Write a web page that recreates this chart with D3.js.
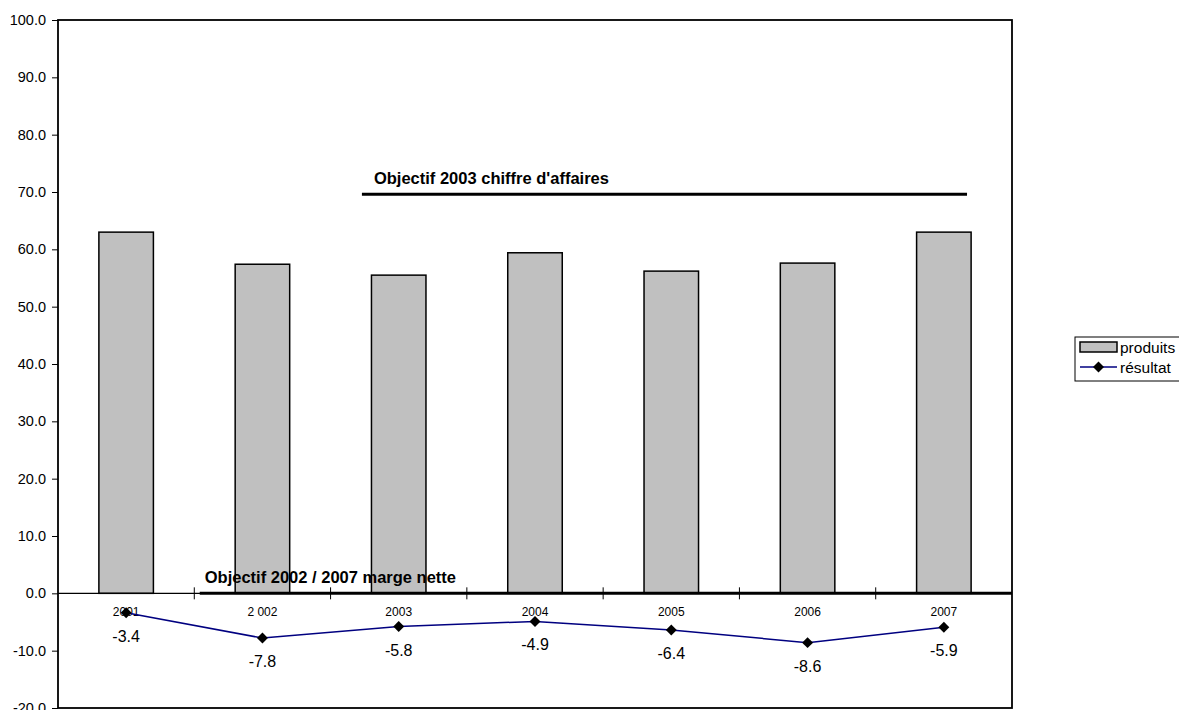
<!DOCTYPE html>
<html><head><meta charset="utf-8">
<script src="https://cdn.jsdelivr.net/npm/d3@7"></script>
<style>body{margin:0;background:#fff}svg{display:block}svg text{font-family:Arial,"Liberation Sans",sans-serif}</style>
</head><body>
<svg id="c" width="1179" height="710"></svg>
<script>
const categories = ["2001","2 002","2003","2004","2005","2006","2007"];
const produits = [63.0, 57.4, 55.5, 59.4, 56.2, 57.6, 63.0];
const resultat = [-3.4, -7.8, -5.8, -4.9, -6.4, -8.6, -5.9];
const yTicks = [-20,-10,0,10,20,30,40,50,60,70,80,90,100];
const objectifCA = {label:"Objectif 2003 chiffre d'affaires", value:69.6, from:2.23, to:6.67};
const objectifMarge = {label:"Objectif 2002 / 2007 marge nette", value:0, from:1.04, to:7};
const legendItems = ["produits","résultat"];

const fmt = d3.formatLocale({decimal:".", thousands:",", grouping:[3], currency:["",""], minus:"-"}).format(".1f");
const svg = d3.select("#c");
const L=58, R=1012, T=20, B=708;
const y = d3.scaleLinear().domain([-20,100]).range([B,T]);
const x = d3.scaleBand().domain(categories).range([L,R]).paddingInner(0.6).paddingOuter(0.3);
const xi = d3.scaleLinear().domain([0,7]).range([L,R]);

// y axis
const yAxis = d3.axisLeft(y).tickValues(yTicks).tickFormat(fmt).tickSize(6).tickPadding(6);
const gy = svg.append("g").attr("transform",`translate(${L},0)`).call(yAxis);
gy.attr("font-family",null);
gy.select(".domain").remove();
gy.selectAll("line").attr("stroke","#000");
gy.selectAll("text").attr("font-size",14.5).attr("fill","#000");

// bars
svg.append("g").selectAll("rect").data(produits).join("rect")
  .attr("x",(d,i)=>x(categories[i])).attr("width",x.bandwidth())
  .attr("y",d=>y(d)).attr("height",d=>y(0)-y(d))
  .attr("fill","#C0C0C0").attr("stroke","#000").attr("stroke-width",1.5);

// x axis at zero
svg.append("line").attr("x1",L).attr("x2",R).attr("y1",y(0)).attr("y2",y(0)).attr("stroke","#000").attr("stroke-width",1.2);
svg.append("g").selectAll("line").data(d3.range(1,7)).join("line")
  .attr("x1",d=>xi(d)).attr("x2",d=>xi(d)).attr("y1",y(0)-6).attr("y2",y(0)+6)
  .attr("stroke","#000").attr("stroke-width",1);

// objective lines
[objectifCA, objectifMarge].forEach(o=>{
  svg.append("line").attr("x1",xi(o.from)).attr("x2",xi(o.to)).attr("y1",y(o.value)).attr("y2",y(o.value))
    .attr("stroke","#000").attr("stroke-width",3);
});
svg.append("text").attr("x",xi(objectifCA.from)+12).attr("y",y(objectifCA.value)-10)
  .attr("font-size",16.5).attr("font-weight","bold").text(objectifCA.label);
svg.append("text").attr("x",xi(objectifMarge.from)+5).attr("y",y(objectifMarge.value)-10)
  .attr("font-size",16.5).attr("font-weight","bold").text(objectifMarge.label);

// category labels
svg.append("g").selectAll("text").data(categories).join("text")
  .attr("x",d=>x(d)+x.bandwidth()/2).attr("y",y(0)+23)
  .attr("text-anchor","middle").attr("font-size",12).text(d=>d);

// line
const cx = i=>x(categories[i])+x.bandwidth()/2;
svg.append("path").datum(resultat)
  .attr("d",d3.line().x((d,i)=>cx(i)).y(d=>y(d)))
  .attr("fill","none").attr("stroke","#000080").attr("stroke-width",1.5);
const sym = d3.symbol().type(d3.symbolSquare).size(60);
svg.append("g").selectAll("path").data(resultat).join("path")
  .attr("d",sym).attr("transform",(d,i)=>`translate(${cx(i)},${y(d)}) rotate(45)`).attr("fill","#000");
svg.append("g").selectAll("text").data(resultat).join("text")
  .attr("x",(d,i)=>cx(i)).attr("y",d=>y(d)+29)
  .attr("text-anchor","middle").attr("font-size",16).text(d=>fmt(d));

// plot border
svg.append("rect").attr("x",L).attr("y",T).attr("width",R-L).attr("height",B-T)
  .attr("fill","none").attr("stroke","#000").attr("stroke-width",1.8);

// legend
const lg = svg.append("g").attr("transform","translate(1075,337)");
lg.append("rect").attr("x",0).attr("y",0).attr("width",130).attr("height",44).attr("fill","#fff").attr("stroke","#000").attr("stroke-width",1);
lg.append("rect").attr("x",5).attr("y",5).attr("width",37).attr("height",10).attr("fill","#C0C0C0").attr("stroke","#000").attr("stroke-width",1.5);
lg.append("text").attr("x",45).attr("y",16).attr("font-size",15.5).text(legendItems[0]);
lg.append("line").attr("x1",5).attr("x2",42).attr("y1",30).attr("y2",30).attr("stroke","#000080").attr("stroke-width",1.5);
lg.append("path").attr("d",sym).attr("transform","translate(23.5,30) rotate(45)").attr("fill","#000");
lg.append("text").attr("x",45).attr("y",36).attr("font-size",15.5).text(legendItems[1]);
</script>
</body></html>
